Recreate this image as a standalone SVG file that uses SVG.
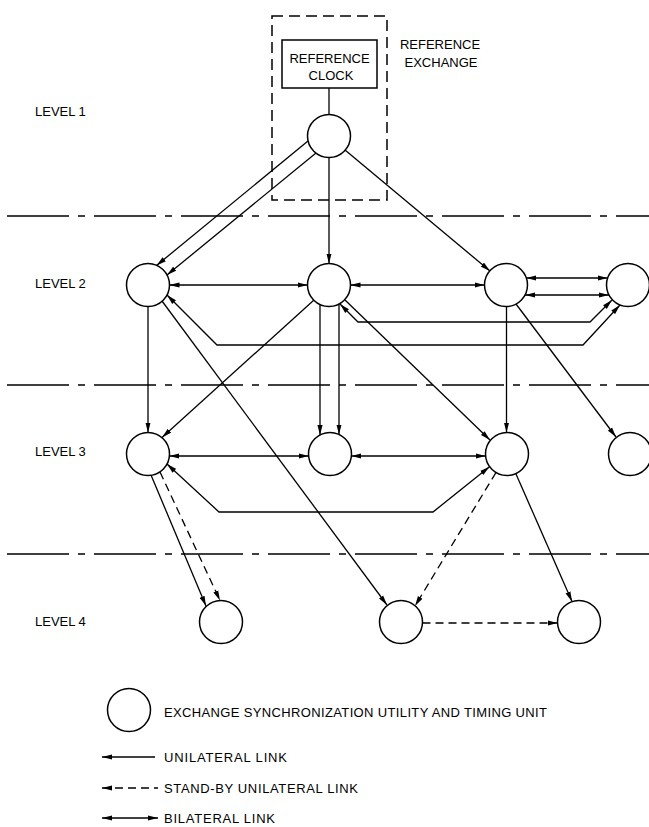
<svg xmlns="http://www.w3.org/2000/svg" width="649" height="827" viewBox="0 0 649 827">
<style>
text{font-family:"Liberation Sans",Arial,sans-serif;font-size:13px;fill:#000}
.n{fill:#fff;stroke:#000;stroke-width:1.5}
.l{fill:none;stroke:#000;stroke-width:1.3}
.a{marker-end:url(#ah)}
.b{marker-start:url(#ah);marker-end:url(#ah)}
.s{marker-start:url(#ah)}
.d{stroke-dasharray:8 5}
.lv{fill:none;stroke:#000;stroke-width:1.4;stroke-dasharray:62 9 7 9}
</style>
<defs>
<marker id="ah" viewBox="0 0 10 6" refX="10" refY="3" markerWidth="10" markerHeight="6" markerUnits="userSpaceOnUse" orient="auto-start-reverse"><path d="M0,0.4 L10,3 L0,5.6 z" fill="#000"/></marker>
</defs>
<g id="level-lines">
<line class="lv" x1="7" y1="216" x2="649" y2="216"/>
<line class="lv" x1="7" y1="385" x2="649" y2="385"/>
<line class="lv" x1="7" y1="554" x2="649" y2="554"/>
</g>
<g id="level-labels">
<text x="35" y="116">LEVEL 1</text>
<text x="35" y="288">LEVEL 2</text>
<text x="35" y="456">LEVEL 3</text>
<text x="35" y="626">LEVEL 4</text>
</g>
<g id="reference-exchange">
<rect x="272" y="16" width="115" height="184" fill="none" stroke="#000" stroke-width="1.5" stroke-dasharray="11 6"/>
<text x="440" y="49" text-anchor="middle">REFERENCE</text>
<text x="441" y="67" text-anchor="middle">EXCHANGE</text>
</g>
<g id="reference-clock">
<rect x="282" y="40" width="95" height="48" fill="#fff" stroke="#000" stroke-width="1.5"/>
<text x="329.5" y="63" text-anchor="middle">REFERENCE</text>
<text x="331" y="80" text-anchor="middle">CLOCK</text>
</g>
<g id="connectors">
<line class="l" x1="329" y1="88" x2="329" y2="115"/>
<line class="l a" x1="308" y1="141" x2="156.5" y2="265.5"/>
<line class="l a" x1="316" y1="153" x2="167" y2="275"/>
<line class="l a" x1="329" y1="157.5" x2="329" y2="263.5"/>
<line class="l a" x1="345" y1="150" x2="490" y2="271"/>
<line class="l b" x1="169.5" y1="285" x2="307.5" y2="285"/>
<line class="l b" x1="350.5" y1="285" x2="484.5" y2="285"/>
<line class="l b" x1="526.3" y1="278" x2="607.7" y2="278"/>
<line class="l b" x1="525" y1="295" x2="609" y2="295"/>
<polyline class="l b" points="340,304 358,322 590,322 612,300"/>
<polyline class="l b" points="167,295 217,345 583,345 620,305"/>
<line class="l a" x1="148" y1="306.5" x2="148" y2="432.5"/>
<line class="l a" x1="162" y1="301" x2="387" y2="605"/>
<line class="l a" x1="314" y1="300" x2="162" y2="437.5"/>
<line class="l a" x1="320" y1="304.5" x2="320" y2="435"/>
<line class="l a" x1="339" y1="304" x2="339" y2="434.5"/>
<line class="l a" x1="345" y1="300" x2="490" y2="440"/>
<line class="l a" x1="506.5" y1="306.5" x2="506.5" y2="432.5"/>
<line class="l a" x1="516" y1="304" x2="616" y2="437"/>
<line class="l b" x1="169.4" y1="456" x2="308.6" y2="456"/>
<line class="l b" x1="351.4" y1="456" x2="485.6" y2="456"/>
<polyline class="l b" points="167,464 219,512 433,512 489.5,466.7"/>
<line class="l a" x1="151" y1="475" x2="206" y2="606"/>
<line class="l a d" x1="160" y1="472" x2="220" y2="600.5"/>
<line class="l a d" x1="496" y1="472.5" x2="415" y2="606"/>
<line class="l a" x1="516" y1="474" x2="572" y2="601.5"/>
<line class="l a d" x1="422.5" y1="623" x2="557.5" y2="623"/>
</g>
<g id="node-L1"><circle class="n" cx="329" cy="136" r="21.5"/></g>
<g id="node-L2-a"><circle class="n" cx="148" cy="285" r="21.5"/></g>
<g id="node-L2-b"><circle class="n" cx="329" cy="285" r="21.5"/></g>
<g id="node-L2-c"><circle class="n" cx="506" cy="285" r="21.5"/></g>
<g id="node-L2-d"><circle class="n" cx="628" cy="285" r="21.5"/></g>
<g id="node-L3-a"><circle class="n" cx="148" cy="454" r="21.5"/></g>
<g id="node-L3-b"><circle class="n" cx="330" cy="454" r="21.5"/></g>
<g id="node-L3-c"><circle class="n" cx="507" cy="454" r="21.5"/></g>
<g id="node-L3-d"><circle class="n" cx="630" cy="454" r="21.5"/></g>
<g id="node-L4-a"><circle class="n" cx="221" cy="622" r="21.5"/></g>
<g id="node-L4-b"><circle class="n" cx="401" cy="622" r="21.5"/></g>
<g id="node-L4-c"><circle class="n" cx="579" cy="622" r="21.5"/></g>
<g id="legend">
<circle class="n" cx="129" cy="710" r="21.5"/>
<text x="164" y="717" textLength="383" lengthAdjust="spacing">EXCHANGE SYNCHRONIZATION UTILITY AND TIMING UNIT</text>
<line class="l s" x1="102" y1="757" x2="155" y2="757"/>
<text x="164" y="762" textLength="123" lengthAdjust="spacing">UNILATERAL LINK</text>
<line class="l s d" x1="102" y1="788" x2="158" y2="788"/>
<text x="164" y="793" textLength="194" lengthAdjust="spacing">STAND-BY UNILATERAL LINK</text>
<line class="l b" x1="102" y1="818" x2="158" y2="818"/>
<text x="164" y="823" textLength="111" lengthAdjust="spacing">BILATERAL LINK</text>
</g>
</svg>
